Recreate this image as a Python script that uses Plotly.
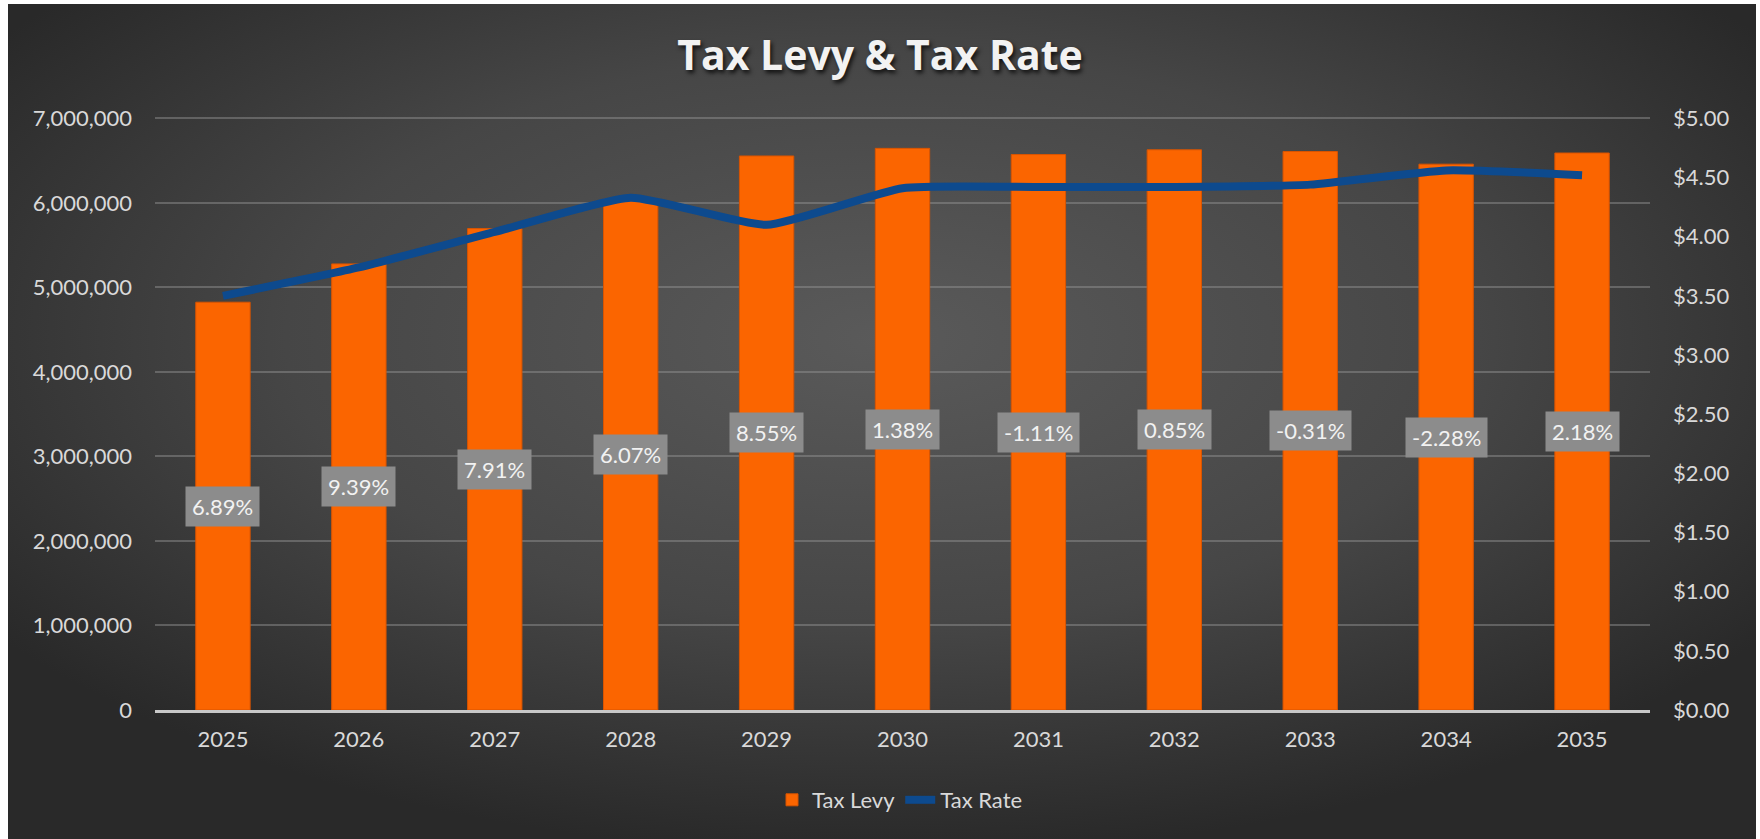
import base64
import plotly.graph_objects as go

years = ["2025", "2026", "2027", "2028", "2029", "2030", "2031", "2032", "2033", "2034", "2035"]
tax_levy = [4825000, 5278000, 5696000, 6042000, 6555000, 6645000, 6572000, 6628000, 6608000, 6458000, 6590000]
tax_rate = [3.50, 3.74, 4.04, 4.33, 4.10, 4.41, 4.42, 4.42, 4.44, 4.56, 4.52]
levy_change = ["6.89%", "9.39%", "7.91%", "6.07%", "8.55%", "1.38%", "-1.11%", "0.85%", "-0.31%", "-2.28%", "2.18%"]

FONT = "Lato, 'Open Sans', sans-serif"
TXT = "#d9d9d9"

# plot-area geometry (pixels) used to place the background image
W, H = 1760, 839
L, R, T, B = 155, 1650, 116, 710
pw, ph = R - L, B - T

LEVY_MAX = 7000000
RATE_MAX = 5.0
PAD = 1.004  # tiny headroom so the top gridline is drawn

svg = ('<svg xmlns="http://www.w3.org/2000/svg" width="1748" height="835" viewBox="0 0 1748 835" '
       'preserveAspectRatio="none"><defs><radialGradient id="g" cx="0.5" cy="0.40" r="0.62">'
       '<stop offset="0" stop-color="#5a5a5a"/><stop offset="0.55" stop-color="#464646"/>'
       '<stop offset="1" stop-color="#292929"/></radialGradient></defs>'
       '<rect x="0" y="0" width="1748" height="835" fill="url(#g)"/></svg>')
bg_src = "data:image/svg+xml;base64," + base64.b64encode(svg.encode()).decode()

fig = go.Figure()
fig.add_trace(go.Bar(
    x=years, y=tax_levy, name="Tax Levy",
    marker=dict(color="#fb6500", line=dict(color="#d95400", width=1)),
    hoverinfo="skip",
))
fig.add_trace(go.Scatter(
    x=years, y=tax_rate, name="Tax Rate", yaxis="y2", mode="lines",
    line=dict(color="#0d4a8e", width=8, shape="spline", smoothing=0.5),
    hoverinfo="skip",
))

annotations = []
for i, (v, lab) in enumerate(zip(tax_levy, levy_change)):
    annotations.append(dict(
        x=i, y=v / 2, xref="x", yref="y", text=lab, showarrow=False,
        font=dict(family=FONT, size=22, color="#f2f2f2"),
        bgcolor="#8c8c8c", borderpad=6,
    ))

fig.update_layout(
    width=W, height=H,
    margin=dict(l=L, r=W - R, t=T, b=H - B),
    paper_bgcolor="#ffffff",
    plot_bgcolor="rgba(0,0,0,0)",
    font=dict(family=FONT, size=22, color=TXT),
    title=dict(
        text="Tax Levy & Tax Rate", x=0.5, xanchor="center",
        y=1 - 56 / H, yanchor="middle", yref="container",
        font=dict(family="'Open Sans', Lato, sans-serif", size=41, color="#f2f2f2", weight="bold",
                  shadow="2px 3px 4px rgba(0,0,0,0.75)"),
    ),
    bargap=0.6,
    showlegend=True,
    legend=dict(
        orientation="h", x=(900 - L) / pw, xanchor="center",
        y=(B - 800) / ph, yanchor="middle",
        font=dict(family=FONT, size=22, color=TXT),
        bgcolor="rgba(0,0,0,0)",
    ),
    xaxis=dict(
        type="category", categoryorder="array", categoryarray=years,
        range=[-0.5, len(years) - 0.5],
        showgrid=False, showline=True, linecolor="#c8c8c8", linewidth=2.5,
        ticks="", tickfont=dict(family=FONT, size=22, color=TXT), ticklabelstandoff=8,
    ),
    yaxis=dict(
        range=[0, LEVY_MAX * PAD], dtick=1000000, tickformat=",", showgrid=True,
        gridcolor="rgba(150,150,150,0.45)", gridwidth=1.5, zeroline=False,
        tickfont=dict(family=FONT, size=22, color=TXT), ticklabelstandoff=22,
    ),
    yaxis2=dict(
        range=[0, RATE_MAX * PAD], dtick=0.5, tickformat="$.2f", overlaying="y", side="right",
        showgrid=False, zeroline=False,
        tickfont=dict(family=FONT, size=22, color=TXT), ticklabelstandoff=22,
    ),
    annotations=annotations,
    images=[dict(
        source=bg_src, xref="paper", yref="paper",
        x=(8 - L) / pw, y=(B - 4) / ph,
        sizex=(1756 - 8) / pw, sizey=(H - 4) / ph,
        xanchor="left", yanchor="top", sizing="stretch", layer="below",
    )],
)

fig.write_html("out.html")
